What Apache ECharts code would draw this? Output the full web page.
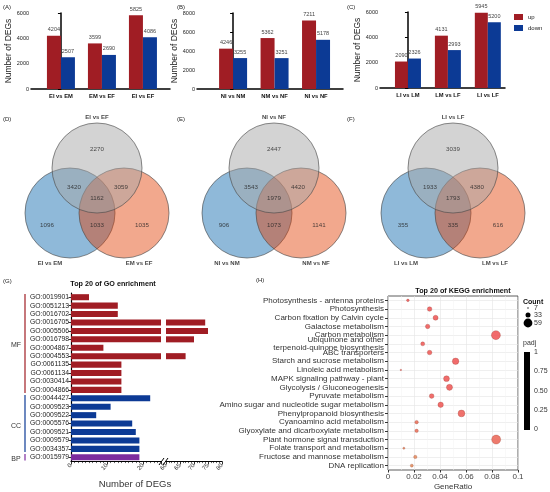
<!DOCTYPE html>
<html><head><meta charset="utf-8">
<script src="https://cdn.jsdelivr.net/npm/echarts@6/dist/echarts.min.js"></script>
<style>html,body{margin:0;padding:0;background:#fff}#c{width:550px;height:492px}</style>
</head><body><div id="c"></div>
<script>
// ---------- DATA ----------
const catsA = ['EI vs EM', 'EM vs EF', 'EI vs EF'];
const upA = [4204, 3599, 5825];
const downA = [2507, 2690, 4086];
const catsB = ['NI vs NM', 'NM vs NF', 'NI vs NF'];
const upB = [4246, 5362, 7211];
const downB = [3255, 3251, 5178];
const catsC = ['LI vs LM', 'LM vs LF', 'LI vs LF'];
const upC = [2090, 4131, 5945];
const downC = [2326, 2993, 5200];

// Venn: sets = [top, left, right]; counts = [topOnly, top&left, top&right, all, leftOnly, left&right, rightOnly]
const vennSetsD = ['EI vs EF', 'EI vs EM', 'EM vs EF'];
const vennCountsD = [2270, 3420, 3059, 1162, 1096, 1033, 1035];
const vennSetsE = ['NI vs NF', 'NI vs NM', 'NM vs NF'];
const vennCountsE = [2447, 3543, 4420, 1979, 906, 1073, 1141];
const vennSetsF = ['LI vs LF', 'LI vs LM', 'LM vs LF'];
const vennCountsF = [3039, 1933, 4380, 1793, 355, 335, 616];

const goTerms = ['GO:0019901','GO:0051213','GO:0016702','GO:0016705','GO:0005506','GO:0016798','GO:0004867','GO:0004553','GO:0061135','GO:0061134','GO:0030414','GO:0004866','GO:0044427','GO:0009523','GO:0009522','GO:0005576','GO:0009521','GO:0009579','GO:0034357','GO:0015979'];
const goCounts = [5, 13, 13, 74, 75, 70, 9, 67, 14, 14, 14, 14, 22, 11, 7, 17, 18, 19, 19, 19];
const goGroups = ['MF','MF','MF','MF','MF','MF','MF','MF','MF','MF','MF','MF','CC','CC','CC','CC','CC','CC','CC','BP'];

const keggTerms = ['Photosynthesis - antenna proteins','Photosynthesis','Carbon fixation by Calvin cycle','Galactose metabolism','Carbon metabolism','Ubiquinone and other\nterpenoid-quinone biosynthesis','ABC transporters','Starch and sucrose metabolism','Linoleic acid metabolism','MAPK signaling pathway - plant','Glycolysis / Gluconeogenesis','Pyruvate metabolism','Amino sugar and nucleotide sugar metabolism','Phenylpropanoid biosynthesis','Cyanoamino acid metabolism','Glyoxylate and dicarboxylate metabolism','Plant hormone signal transduction','Folate transport and metabolism','Fructose and mannose metabolism','DNA replication'];
const keggRatio = [0.0153, 0.032, 0.0366, 0.0305, 0.083, 0.0267, 0.032, 0.052, 0.0099, 0.045, 0.0473, 0.0336, 0.0405, 0.0565, 0.022, 0.022, 0.0832, 0.0122, 0.021, 0.0183];
const keggCount = [11, 23, 26, 22, 59, 19, 23, 37, 7, 32, 34, 24, 29, 40, 16, 16, 59, 9, 15, 13];
const keggPadj = [0.02, 0.02, 0.02, 0.03, 0.01, 0.04, 0.04, 0.02, 0.05, 0.03, 0.03, 0.04, 0.04, 0.1, 0.3, 0.3, 0.22, 0.55, 0.6, 0.62];

// ---------- STYLE / LAYOUT ----------
const F = '"Liberation Sans", Arial, Helvetica, sans-serif';
const RED = '#A01D24', BLUE = '#0C3A95', PURPLE = '#7D2B9E';
const groupColor = {MF: RED, CC: BLUE, BP: PURPLE};
const VENN_CX = [0, -27, 27], VENN_CY = [27, -18, -18];
const VENN_FILL = ['rgba(165,165,165,0.62)', '#73A7D0', 'rgba(226,60,0,0.56)'];
const VENN_LX = [0, -23, 24, 0, -50, 0, 45], VENN_LY = [46, 8, 8, -3, -30, -30, -30];
const VENN_NX = [0, -47, 42], VENN_NY = [78, -68, -68];

const chart = echarts.init(document.getElementById('c'));

const grids = [
  {left: 31, top: 13, width: 139, height: 76},
  {left: 197, top: 13, width: 146, height: 76},
  {left: 380, top: 12, width: 125, height: 76},
  {left: 7, top: 115, width: 180, height: 160},
  {left: 184, top: 115, width: 180, height: 160},
  {left: 363, top: 115, width: 180, height: 160},
  {left: 71, top: 293, width: 90, height: 168.5},
  {left: 166, top: 293, width: 56, height: 168.5},
  {left: 388, top: 296, width: 130, height: 175, show: true, borderColor: '#333', borderWidth: 0.8}
];

function barX(k, cats, min, max) {
  return {type: 'value', gridIndex: k, min: min, max: max,
    axisLine: {show: true, onZero: false, lineStyle: {color: '#000', width: 1.5}},
    axisTick: {show: false}, splitLine: {show: false},
    axisLabel: {customValues: [0, 1, 2], formatter: v => (Math.abs(v - Math.round(v)) < 1e-6 && cats[Math.round(v)]) || '',
      fontSize: 5.8, fontWeight: 'bold', color: '#111', margin: 4, fontFamily: F}};
}
function barY(k, max) {
  return {type: 'value', gridIndex: k, min: 0, max: max, interval: 2000,
    axisLine: {show: true, lineStyle: {color: '#000', width: 1.5}},
    axisTick: {show: true, length: 3, lineStyle: {color: '#000', width: 1}},
    axisLabel: {fontSize: 5.5, color: '#222', margin: 2, fontFamily: F, formatter: v => String(v)},
    splitLine: {show: false},
    name: 'Number of DEGs', nameLocation: 'middle', nameGap: 17,
    nameTextStyle: {fontSize: 8.5, color: '#222', fontFamily: F}};
}
function barSeries(k, up, down, w) {
  const lab = {show: true, position: 'top', distance: 3, fontSize: 5.5, color: '#444', fontFamily: F, formatter: p => p.value[1]};
  return [
    {type: 'bar', name: 'up', xAxisIndex: k, yAxisIndex: k, data: up.map((v, i) => [i, v]), barWidth: w, barGap: '0%', itemStyle: {color: RED}, label: lab},
    {type: 'bar', name: 'down', xAxisIndex: k, yAxisIndex: k, data: down.map((v, i) => [i, v]), barWidth: w, barGap: '0%', itemStyle: {color: BLUE}, label: lab}
  ];
}
function vennAxes(k) {
  return [{type: 'value', gridIndex: k, min: -90, max: 90, show: false},
          {type: 'value', gridIndex: k, min: -80, max: 80, show: false}];
}
function vennSeries(k, sets, counts) {
  return [
    {type: 'scatter', xAxisIndex: k, yAxisIndex: k, silent: true, symbolSize: 90, z: 2,
      data: [1, 2, 0].map(j => ({value: [VENN_CX[j], VENN_CY[j]], itemStyle: {color: VENN_FILL[j], borderColor: '#4a4a4a', borderWidth: 0.8}}))},
    {type: 'scatter', xAxisIndex: k, yAxisIndex: k, silent: true, symbolSize: 0, z: 5,
      data: counts.map((c, j) => [VENN_LX[j], VENN_LY[j], c]),
      label: {show: true, position: 'inside', formatter: p => p.value[2], fontSize: 6.2, color: '#222', fontFamily: F}},
    {type: 'scatter', xAxisIndex: k, yAxisIndex: k, silent: true, symbolSize: 0, z: 5,
      data: sets.map((s, j) => [VENN_NX[j], VENN_NY[j], s]),
      label: {show: true, position: 'inside', formatter: p => p.value[2], fontSize: 6, fontWeight: 'bold', color: '#111', fontFamily: F}}
  ];
}

const xAxes = [barX(0, catsA, -0.73, 2.66), barX(1, catsB, -0.87, 2.65), barX(2, catsC, -0.7, 2.43)];
const yAxes = [barY(0, 6000), barY(1, 8000), barY(2, 6000)];
[3, 4, 5].forEach(k => { const a = vennAxes(k); xAxes.push(a[0]); yAxes.push(a[1]); });

// GO axes
const goX = (k, min, max, iv, split) => ({type: 'value', gridIndex: k, min: min, max: max, interval: iv,
  axisLine: {show: true, onZero: false, lineStyle: {color: '#000', width: 1.2}},
  axisTick: {show: true, length: 3, lineStyle: {color: '#000', width: 0.8}},
  minorTick: {show: true, splitNumber: split, length: 1.6, lineStyle: {color: '#000', width: 0.6}},
  axisLabel: {rotate: 45, fontSize: 6, color: '#222', margin: 3, showMaxLabel: min > 0, fontFamily: F},
  splitLine: {show: false}});
xAxes.push(goX(6, 0, 25, 10, 10));
xAxes.push(goX(7, 60, 80, 5, 5));
yAxes.push({type: 'category', gridIndex: 6, data: goTerms, inverse: true,
  axisLine: {show: true, lineStyle: {color: '#000', width: 1.2}},
  axisTick: {show: true, length: 2.5, alignWithLabel: true, interval: 0, lineStyle: {color: '#000', width: 0.8}},
  axisLabel: {interval: 0, fontSize: 6.8, color: '#222', margin: 2, fontFamily: F}});
yAxes.push({type: 'category', gridIndex: 7, data: goTerms, inverse: true, show: false});

// KEGG axes
xAxes.push({type: 'value', gridIndex: 8, min: 0, max: 0.1, interval: 0.02,
  axisLine: {show: false}, axisTick: {show: true, length: 2.5, lineStyle: {color: '#333'}},
  axisLabel: {fontSize: 8, color: '#444', margin: 3, fontFamily: F},
  splitLine: {show: true, lineStyle: {color: '#e4e4e4', width: 0.6}},
  minorSplitLine: {show: true, lineStyle: {color: '#f3f3f3', width: 0.5}}, minorTick: {show: false, splitNumber: 2},
  name: 'GeneRatio', nameLocation: 'middle', nameGap: 13, nameTextStyle: {fontSize: 8, color: '#333', fontFamily: F}});
yAxes.push({type: 'category', gridIndex: 8, data: keggTerms, inverse: true,
  axisLine: {show: false},
  axisTick: {show: true, alignWithLabel: true, interval: 0, length: 3, lineStyle: {color: '#333'}},
  axisLabel: {interval: 0, fontSize: 8, color: '#333', margin: 4, lineHeight: 7.2, fontFamily: F},
  splitLine: {show: true, alignWithLabel: true, interval: 0, lineStyle: {color: '#e4e4e4', width: 0.6}}});

const series = [].concat(
  barSeries(0, upA, downA, 14), barSeries(1, upB, downB, 14), barSeries(2, upC, downC, 13),
  vennSeries(3, vennSetsD, vennCountsD), vennSeries(4, vennSetsE, vennCountsE), vennSeries(5, vennSetsF, vennCountsF)
);
series.push({type: 'bar', xAxisIndex: 6, yAxisIndex: 6, barCategoryGap: '28%', clip: true,
  data: goCounts.map((v, i) => ({value: v, itemStyle: {color: groupColor[goGroups[i]]}}))});
series.push({type: 'bar', xAxisIndex: 7, yAxisIndex: 7, barCategoryGap: '28%', clip: true,
  data: goCounts.map((v, i) => v > 60 ? {value: v, itemStyle: {color: groupColor[goGroups[i]]}} : '-')});
const keggIdx = series.length;
series.push({type: 'scatter', xAxisIndex: 8, yAxisIndex: 8, z: 4,
  data: keggTerms.map((t, i) => [keggRatio[i], i, keggCount[i], keggPadj[i]]),
  symbolSize: v => 1.5 + 7.5 * Math.pow(Math.max(0, v[2] - 7) / 52, 0.75),
  itemStyle: {opacity: 0.9, borderColor: 'rgba(130,40,30,0.45)', borderWidth: 0.6}});

chart.setOption({
  animation: false,
  textStyle: {fontFamily: F},
  grid: grids, xAxis: xAxes, yAxis: yAxes, series: series,
  legend: {data: ['up', 'down'], orient: 'vertical', left: 514, top: 14, padding: 0, itemWidth: 9, itemHeight: 6, itemGap: 5,
    icon: 'rect', selectedMode: false, textStyle: {fontSize: 6, color: '#222', fontFamily: F}},
  visualMap: [{type: 'continuous', show: false, seriesIndex: keggIdx, dimension: 3, min: 0, max: 1,
    inRange: {color: ['#F05A5C', '#DDB262']}}]
});

// ---------- annotations ----------
function txt(x, y, s, size, opt) {
  opt = opt || {};
  return {type: 'text', x: x, y: y, z: 10, silent: true,
    style: {text: s, fill: opt.color || '#222', fontSize: size, fontFamily: F, fontWeight: opt.bold ? 'bold' : 'normal',
      align: opt.align || 'left', verticalAlign: 'middle', textAlign: opt.align || 'left', textVerticalAlign: 'middle'}};
}
const g = [
  txt(3, 7, '(A)', 6), txt(177, 7, '(B)', 6), txt(347, 7, '(C)', 6),
  txt(3, 119, '(D)', 6), txt(177, 119, '(E)', 6), txt(347, 119, '(F)', 6),
  txt(3, 281, '(G)', 6), txt(256, 280, '(H)', 6),
  txt(113, 284, 'Top 20 of GO enrichment', 7.2, {bold: true, align: 'center', color: '#111'}),
  txt(463, 291, 'Top 20 of KEGG enrichment', 7.2, {bold: true, align: 'center', color: '#111'}),
  txt(135, 484, 'Number of DEGs', 9.5, {align: 'center', color: '#333'}),
  // break marks
  {type: 'line', silent: true, z: 10, shape: {x1: 159, y1: 465, x2: 164, y2: 458}, style: {stroke: '#000', lineWidth: 1}},
  {type: 'line', silent: true, z: 10, shape: {x1: 163, y1: 465, x2: 168, y2: 458}, style: {stroke: '#000', lineWidth: 1}},
  // count legend
  txt(523, 302, 'Count', 7, {bold: true, color: '#111'}),
  {type: 'circle', silent: true, z: 10, shape: {cx: 528, cy: 308, r: 0.7}, style: {fill: '#000'}},
  {type: 'circle', silent: true, z: 10, shape: {cx: 528, cy: 315, r: 2.5}, style: {fill: '#000'}},
  {type: 'circle', silent: true, z: 10, shape: {cx: 528, cy: 323, r: 4.4}, style: {fill: '#000'}},
  txt(534, 308, '7', 7, {color: '#333'}), txt(534, 315, '33', 7, {color: '#333'}), txt(534, 323, '59', 7, {color: '#333'}),
  // padj legend
  txt(523, 343, 'padj', 7, {color: '#333'}),
  {type: 'rect', silent: true, z: 10, shape: {x: 524, y: 352, width: 6, height: 78}, style: {fill: '#000'}},
  txt(534, 352, '1', 7, {color: '#333'}), txt(534, 371, '0.75', 7, {color: '#333'}),
  txt(534, 391, '0.50', 7, {color: '#333'}), txt(534, 410, '0.25', 7, {color: '#333'}), txt(534, 429, '0', 7, {color: '#333'})
];
['MF', 'CC', 'BP'].forEach(gr => {
  const idx = goGroups.map((x, i) => x === gr ? i : -1).filter(i => i >= 0);
  const y1 = chart.convertToPixel({yAxisIndex: 6}, idx[0]) - 3.2;
  const y2 = chart.convertToPixel({yAxisIndex: 6}, idx[idx.length - 1]) + 3.2;
  g.push({type: 'line', silent: true, z: 10, shape: {x1: 25, y1: y1, x2: 25, y2: y2}, style: {stroke: groupColor[gr], lineWidth: 1.2}});
  g.push(txt(16, (y1 + y2) / 2 + 2, gr, 7, {align: 'center', color: '#333'}));
});
chart.setOption({graphic: {elements: g}});
</script></body></html>
